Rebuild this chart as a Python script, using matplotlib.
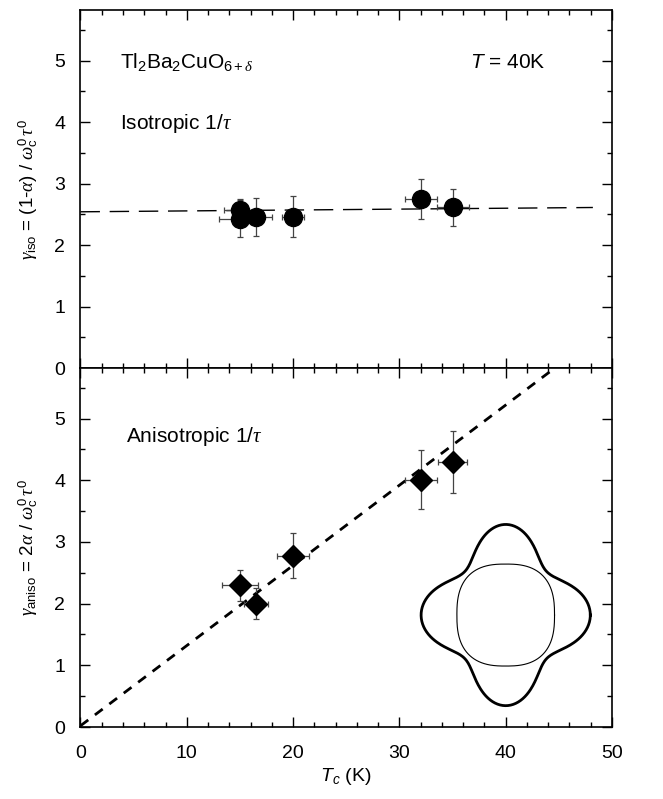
## gamma_iso / gamma_aniso vs Tc figure
# -----------------------------------------------------------------------------
print('\n*** scattering rate anisotropy vs Tc: drawing figure ***')

import numpy as np
from matplotlib import pyplot as plt

plt.rcParams['font.family'] = ['Liberation Sans', 'DejaVu Sans']
plt.rcParams['mathtext.fontset'] = 'custom'
plt.rcParams['mathtext.rm'] = 'Liberation Sans'
plt.rcParams['mathtext.it'] = 'Liberation Serif:italic'
plt.rcParams['mathtext.sf'] = 'Liberation Sans:italic'

# -----------------------------------------------------------------------------
print('\n## --- section_a: data ---')
# isotropic panel (circles)
tc_iso = [15.0, 15.0, 16.5, 20.0, 32.0, 35.0]
gam_iso = [2.57, 2.43, 2.45, 2.46, 2.75, 2.61]
gam_iso_err = [0.18, 0.30, 0.31, 0.33, 0.33, 0.30]
tc_iso_err = [1.5, 2.0, 1.5, 1.0, 1.5, 1.5]
fit_iso_x = [0.0, 48.2]
fit_iso_y = [2.54, 2.61]

# anisotropic panel (diamonds)
tc_ani = [15.0, 16.5, 20.0, 32.0, 35.0]
gam_ani = [2.30, 2.00, 2.78, 4.01, 4.30]
gam_ani_err = [0.25, 0.25, 0.37, 0.48, 0.50]
tc_ani_err = [1.7, 1.1, 1.5, 1.5, 1.4]
fit_ani_x = [0.0, 45.0]
fit_ani_y = [0.02, 5.87]

# -----------------------------------------------------------------------------
print('\n## --- section_b: drawing ---')
fig = plt.figure(figsize=(6.63, 7.99), dpi=100)
ax1 = fig.add_axes([0.1214, 0.5394, 0.8017, 0.448])
ax2 = fig.add_axes([0.1214, 0.0901, 0.8017, 0.4493])

ebkw = dict(linestyle='none', ecolor='#444444', elinewidth=0.9, capsize=2.5,
            capthick=0.9, color='black', zorder=3)

ax1.plot(fit_iso_x, fit_iso_y, color='black', linewidth=1.0,
         dashes=(14, 7), zorder=2)
ax1.errorbar(tc_iso, gam_iso, yerr=gam_iso_err, xerr=tc_iso_err,
             marker='o', markersize=13, **ebkw)

ax2.plot(fit_ani_x, fit_ani_y, color='black', linewidth=2.0,
         dashes=(3.5, 3), zorder=2)
ax2.errorbar(tc_ani, gam_ani, yerr=gam_ani_err, xerr=tc_ani_err,
             marker='D', markersize=11, **ebkw)

# inset: Fermi surface sketch (in pixel-like units, converted to data)
cx, cy = 40.0, 1.815
px_x, px_y = 10.67, 61.7
th = np.linspace(0, 2*np.pi, 400)
r_out = 74.0 + 14.0*np.cos(4*th)
ax2.plot(cx + 0.965*r_out*np.cos(th)/px_x, cy + 1.03*r_out*np.sin(th)/px_y,
         color='black', linewidth=2.0)
a_in, b_in, n_in = 49.0, 51.0, 2.6
ct, st = np.cos(th), np.sin(th)
xin = a_in*np.sign(ct)*np.abs(ct)**(2/n_in)
yin = b_in*np.sign(st)*np.abs(st)**(2/n_in)
ax2.plot(cx + xin/px_x, cy + yin/px_y, color='black', linewidth=0.8)

for ax in (ax1, ax2):
    ax.set_xlim(0, 50)
    ax.set_ylim(0, 5.82)
    ax.set_xticks(np.arange(0, 51, 10))
    ax.set_xticks(np.arange(0, 51, 2), minor=True)
    ax.set_yticks(np.arange(0, 6, 1))
    ax.set_yticks(np.arange(0, 6, 0.5), minor=True)
    ax.tick_params(which='both', direction='in', top=True, right=True,
                   labelsize=14, width=1.0)
    ax.tick_params(which='major', length=7)
    ax.tick_params(which='minor', length=3.5)
    ax.tick_params(axis='y', pad=11)
    ax.tick_params(axis='x', pad=13)
    for sp in ax.spines.values():
        sp.set_linewidth(1.2)

ax1.tick_params(labelbottom=False)

ax1.set_ylabel(r'$\gamma_{\rm iso}$ = (1-$\alpha$) / $\omega_{\rm c}^0\,\tau^0$',
               fontsize=13.5, labelpad=10)
ax2.set_ylabel(r'$\gamma_{\rm aniso}$ = 2$\alpha$ / $\omega_{\rm c}^0\,\tau^0$',
               fontsize=13.5, labelpad=10)
ax2.set_xlabel(r'$\mathsf{T_c}$ (K)', fontsize=14, labelpad=3)

ax1.text(3.7, 4.87, r'Tl$_2$Ba$_2$CuO$_{6+\delta}$', fontsize=15)
ax1.text(36.6, 4.87, r'$\mathsf{T}$ = 40K', fontsize=15)
ax1.text(3.7, 3.89, r'Isotropic 1/$\tau$', fontsize=15)
ax2.text(4.3, 4.62, r'Anisotropic 1/$\tau$', fontsize=15)

fig.savefig('out.png', dpi=100)
